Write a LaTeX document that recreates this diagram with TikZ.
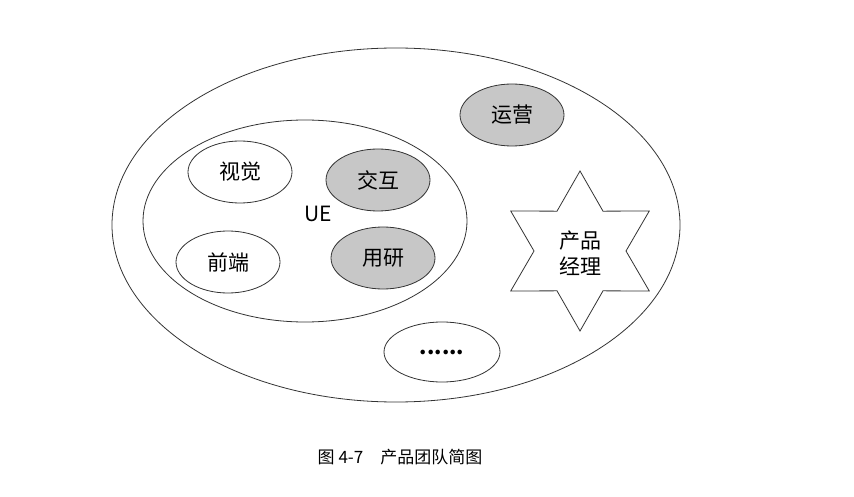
\documentclass[tikz,border=0pt]{standalone}
\usepackage{fontspec}
\setmainfont{Noto Sans CJK SC}
\newfontfamily\cjk{Noto Sans CJK SC}
\usetikzlibrary{shapes.geometric}
\begin{document}
\begin{tikzpicture}[x=1pt,y=-1pt,
  ell/.style={draw=black!80,line width=0.8pt,ellipse,inner sep=0pt,minimum width=104pt,minimum height=62pt,font=\cjk\fontsize{21}{24}\selectfont},
  gr/.style={ell,fill=black!22},
  wh/.style={ell,fill=white}]
\useasboundingbox (0,0) rectangle (854,497);
\fill[white] (0,0) rectangle (854,497);
\node[draw=black!80,line width=0.8pt,ellipse,minimum width=568pt,minimum height=354pt] (outer) at (396,225) {};
\node[draw=black!80,line width=0.8pt,ellipse,minimum width=324pt,minimum height=202pt] (inner) at (305,221) {};
\node[wh] (sj) at (240,172) {视觉};
\node[gr] (jh) at (378,180) {交互};
\node[wh] (qd) at (228,262) {前端};
\node[gr] (yy) at (383,258) {用研};
\node[gr] (yx) at (512,115) {运营};
\node[wh,minimum width=116pt,minimum height=60pt] (dots) at (442,352) {\textbf{......}};
\node[font=\fontsize{21}{24}\selectfont] (ue) at (318,214) {UE};
\draw[black!80,line width=0.8pt,fill=white,shift={(580,251)}] (90:80pt) -- (120:46pt) -- (150:80pt) -- (180:46pt) -- (210:80pt) -- (240:46pt) -- (270:80pt) -- (300:46pt) -- (330:80pt) -- (0:46pt) -- (30:80pt) -- (60:46pt) -- cycle;
\node[font=\cjk\fontsize{21}{24}\selectfont,align=center] (pm) at (580,253) {产品\\[2pt]经理};
\node[font=\cjk\fontsize{17}{20}\selectfont] (cap) at (400,457) {图 4-7\quad 产品团队简图};
\end{tikzpicture}
\end{document}
